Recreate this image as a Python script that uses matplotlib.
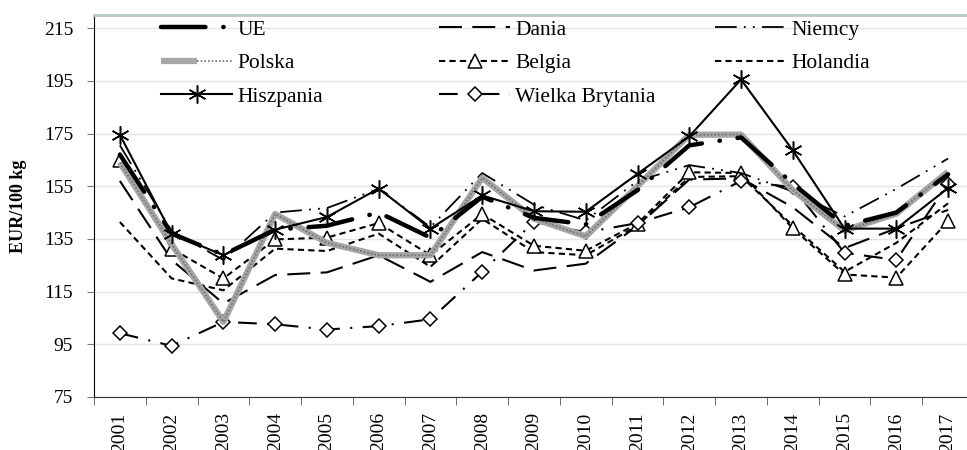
import matplotlib
matplotlib.use('Agg')
import matplotlib.pyplot as plt
from matplotlib.legend_handler import HandlerTuple

plt.rcParams['font.family'] = ['Liberation Serif', 'DejaVu Serif']

# dane (EUR/100 kg)
lata = ['2001', '2002', '2003', '2004', '2005', '2006', '2007', '2008', '2009',
        '2010', '2011', '2012', '2013', '2014', '2015', '2016', '2017']
ue = [167, 137, 129, 138.5, 140, 145, 135.5, 151, 143, 140.5, 153.5, 170.5, 173.5, 156, 140, 145, 159.5]
polska = [164, 133, 103.5, 144.5, 133.5, 128.8, 128.8, 158.2, 142.7, 136, 155, 174.5, 174.6, 153.5, 138.2, 144.6, 160.5]
hiszpania = [174.5, 137, 128.8, 138.5, 143.3, 154.1, 138.9, 151.5, 145.5, 145.3, 159.7, 173.9, 195.5, 168.6, 138.9, 138.9, 154.3]
dania = [157, 127, 110.5, 121.3, 122.3, 128.8, 118.7, 130, 123, 125.6, 140, 157.5, 158, 147, 131.5, 139, 146]
belgia = [164.8, 131.3, 120, 134.8, 135.5, 141, 128.8, 144.4, 132.4, 130.5, 140.8, 160.3, 160, 139, 121.5, 120.3, 141.7]
holandia = [141.4, 120, 115.5, 131.3, 130.4, 137, 124.4, 142.6, 130, 128.8, 140, 158.5, 158.8, 140, 122.5, 133.5, 148.5]
niemcy = [170.5, 138, 127, 145, 146.7, 154, 139.5, 160, 148, 142, 157, 163, 160, 153, 143.5, 154, 165.5]
wielka_brytania = [99.2, 94.4, 103.5, 102.6, 100.6, 101.9, 104.5, 122.5, 141.5, 137.5, 141, 147, 157, 154.6, 129.7, 127, 156]
y_ticks = [75, 95, 115, 135, 155, 175, 195, 215]

x = list(range(len(lata)))

fig = plt.figure(figsize=(9.67, 4.5), dpi=100)
ax = fig.add_axes([0.0972, 0.1178, 0.91, 0.849])

h_hol, = ax.plot(x, holandia, color='black', lw=1.5, linestyle=(0, (3, 2)))
h_dan, = ax.plot(x, dania, color='black', lw=1.5, linestyle=(0, (11, 5)))
h_bel, = ax.plot(x, belgia, color='black', lw=1.5, linestyle=(0, (3, 2)),
                 marker='^', ms=10, mfc='white', mec='black', mew=1.1)
h_wb, = ax.plot(x, wielka_brytania, color='black', lw=1.5, linestyle=(0, (9, 5, 1, 5)),
                marker='D', ms=7, mfc='white', mec='black', mew=1.1)
h_nie, = ax.plot(x, niemcy, color='black', lw=1.3, linestyle=(0, (12, 4, 1, 4, 1, 4)))
h_pol1, = ax.plot(x, polska, color='#a6a6a6', lw=4.5, solid_capstyle='butt')
h_pol2, = ax.plot(x, polska, color='#6f6f6f', lw=1.2, linestyle=(0, (1, 1.2)))
h_ue, = ax.plot(x, ue, color='black', lw=3.2, linestyle=(0, (10, 4, 0.1, 4)),
                dash_capstyle='round')
h_his, = ax.plot(x, hiszpania, color='black', lw=1.5,
                 marker=(6, 2, 0), ms=13, mew=1.1)

ax.set_xlim(-0.5, len(lata) - 0.5)
ax.set_ylim(75, 220)
ax.set_yticks(y_ticks)
ax.set_yticklabels([str(v) for v in y_ticks], fontsize=14)
ax.set_xticks(x)
ax.set_xticklabels(lata, rotation=90, fontsize=14)
ax.set_xticks([i - 0.5 for i in range(len(lata) + 1)], minor=True)
ax.tick_params(axis='x', which='major', length=0, pad=11)
ax.tick_params(axis='x', which='minor', length=6, color='#555555')
ax.tick_params(axis='y', length=5, color='#777777', pad=10)
ax.set_ylabel('EUR/100 kg', fontsize=13, fontweight='bold', labelpad=12)

ax.grid(axis='y', color='#dfe6e6', lw=1)
ax.set_axisbelow(True)
ax.spines['right'].set_visible(False)
ax.spines['top'].set_color('#b8c8c8')
ax.spines['top'].set_linewidth(2)
ax.spines['left'].set_color('black')
ax.spines['bottom'].set_color('#333333')

# legenda w trzech kolumnach
kolumny = [
    ([h_ue, (h_pol1, h_pol2), h_his], ['UE', 'Polska', 'Hiszpania'], 0.1665),
    ([h_dan, h_bel, h_wb], ['Dania', 'Belgia', 'Wielka Brytania'], 0.454),
    ([h_nie, h_hol], ['Niemcy', 'Holandia'], 0.739),
]
for uchwyty, etykiety, xpos in kolumny:
    fig.legend(uchwyty, etykiety, loc='upper left', bbox_to_anchor=(xpos, 0.956),
               frameon=False, fontsize=15.5, handlelength=3.3, handletextpad=0.25,
               labelspacing=0.62, borderpad=0, borderaxespad=0,
               handler_map={tuple: HandlerTuple(ndivide=None)})

fig.savefig('out.png', dpi=100)
